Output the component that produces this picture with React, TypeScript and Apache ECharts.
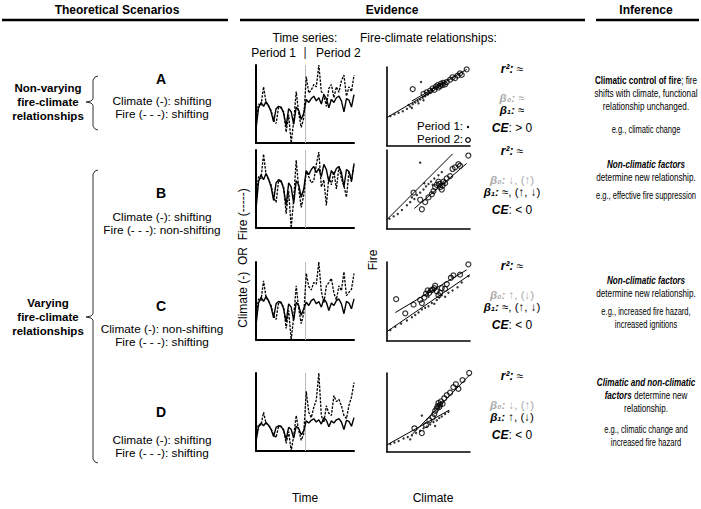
import React, { useEffect, useRef } from "react";
import * as echarts from "echarts";

const FONT = '"Liberation Sans", Arial, Helvetica, sans-serif';

// ---------- Time series (index 0..19 = Period 1, 20..39 = Period 2) ----------
const climateP1 = [18, 45, 52, 47, 53, 48, 40, 27, 44, 47, 46, 38, 22, 44, 40, 24, 46, 42, 30, 38];
const fireP1 = [30, 50, 48, 72, 52, 47, 42, 30, 25, 46, 45, 40, 14, 36, 0, 28, 66, 38, 20, 32];
const climateP2Shifted = [56, 52, 57, 60, 54, 58, 50, 62, 57, 45, 56, 52, 58, 60, 54, 40, 57, 55, 46, 62];
const climateP2Flat = [46, 42, 48, 50, 44, 47, 40, 50, 46, 36, 45, 42, 48, 50, 44, 32, 47, 45, 38, 50];
const fireP2A = [85, 64, 68, 75, 72, 100, 66, 62, 47, 70, 75, 58, 72, 65, 80, 87, 60, 72, 66, 87];
const fireP2B = [55, 50, 44, 46, 62, 74, 40, 47, 22, 50, 42, 55, 38, 60, 48, 41, 30, 55, 45, 63];
const fireP2C = [81, 65, 61, 70, 68, 95, 59, 45, 66, 70, 75, 57, 49, 66, 60, 83, 54, 58, 62, 81];
const fireP2D = [111, 72, 62, 81, 95, 145, 66, 53, 84, 70, 66, 103, 92, 96, 84, 66, 60, 85, 100, 127];
const tsMax = [100, 76, 95, 145];
const periodBreak = 19.5;

// ---------- Fire-climate scatter (x: climate, y: fire) ----------
const scatterA1 = [[4, 38], [9, 40], [14, 42], [19, 44], [24, 47], [28, 50], [31, 53], [34, 55], [37, 57], [40, 59], [43, 61], [46, 63], [49, 65], [52, 67], [30, 48], [38, 54], [44, 58], [26, 52], [41, 81], [55, 70]];
const scatterA2 = [[31, 72], [44, 66], [48, 68], [52, 70], [55, 73], [57, 71], [59, 75], [61, 77], [62, 74], [64, 76], [65, 79], [67, 77], [68, 80], [70, 78], [72, 81], [76, 84], [79, 87], [82, 86], [85, 89], [88, 92], [90, 90], [96, 97]];
const fitA1 = [[0, 36], [55, 70]];
const fitA2 = [[30, 57], [96, 97]];

const scatterB1 = [[3, 13], [8, 16], [13, 19], [18, 24], [24, 30], [28, 34], [33, 38], [36, 43], [40, 46], [44, 50], [47, 54], [50, 57], [53, 60], [57, 64], [62, 68], [66, 72], [40, 84], [30, 40], [45, 58], [55, 56]];
const scatterB2 = [[32, 46], [40, 37], [42, 25], [46, 34], [50, 40], [54, 44], [56, 48], [58, 53], [60, 56], [62, 60], [63, 57], [64, 53], [66, 50], [67, 55], [68, 60], [70, 58], [72, 64], [76, 67], [79, 76], [82, 78], [86, 82], [88, 80], [98, 93]];
const fitB1 = [[0, 12], [79, 95]];
const fitB2 = [[33, 26], [96, 83]];

const scatterC1 = [[4, 14], [10, 18], [17, 22], [24, 26], [30, 30], [34, 33], [38, 36], [42, 40], [46, 42], [50, 44], [54, 48], [57, 47], [60, 52], [63, 55], [66, 58], [70, 56], [74, 61], [79, 64], [85, 68], [90, 74], [98, 82], [50, 56]];
const scatterC2 = [[11, 53], [22, 35], [32, 46], [40, 52], [42, 48], [45, 55], [47, 60], [49, 64], [51, 61], [53, 64], [55, 65], [57, 67], [58, 70], [60, 63], [62, 58], [64, 61], [66, 67], [70, 66], [72, 72], [77, 80], [80, 83], [88, 84], [98, 97]];
const fitC1 = [[0, 12], [100, 84]];
const fitC2 = [[10, 36], [96, 90]];

const scatterD1 = [[4, 10], [9, 12], [14, 14], [20, 17], [25, 19], [30, 21], [35, 24], [40, 27], [44, 30], [48, 32], [52, 35], [56, 38], [60, 40], [63, 43], [66, 45], [70, 48], [74, 51], [42, 46], [58, 33], [28, 16]];
const scatterD2 = [[33, 30], [42, 24], [47, 34], [51, 40], [55, 44], [57, 48], [58, 52], [60, 55], [61, 58], [62, 62], [63, 57], [64, 60], [65, 64], [67, 61], [69, 68], [72, 72], [76, 75], [80, 82], [83, 86], [86, 80], [91, 91], [99, 100]];
const fitD1 = [[0, 9], [75, 53]];
const fitD2 = [[30, 22], [100, 98]];

// ---------- Texts ----------
const scenarioLetters = ["A", "B", "C", "D"];
const climateLabels = ["Climate (-): shifting", "Climate (-): shifting", "Climate (-): non-shifting", "Climate (-): shifting"];
const fireLabels = ["Fire (- - -): shifting", "Fire (- - -): non-shifting", "Fire (- - -): shifting", "Fire (- - -): shifting"];
const beta0Labels = ["≈", "↓, (↑)", "↑, (↓)", "↓, (↑)"];
const beta1Labels = ["≈", "≈, (↑, ↓)", "≈, (↑, ↓)", "↑, (↓)"];
const ceLabels = ["> 0", "< 0", "< 0", "< 0"];

const tsRows = [
  { climate: climateP2Shifted, fire: fireP2A },
  { climate: climateP2Shifted, fire: fireP2B },
  { climate: climateP2Flat, fire: fireP2C },
  { climate: climateP2Shifted, fire: fireP2D },
];
const scRows = [
  { p1: scatterA1, p2: scatterA2, fits: [fitA1, fitA2] },
  { p1: scatterB1, p2: scatterB2, fits: [fitB1, fitB2] },
  { p1: scatterC1, p2: scatterC2, fits: [fitC1, fitC2] },
  { p1: scatterD1, p2: scatterD2, fits: [fitD1, fitD2] },
];

const rowTop = [65, 150, 262, 373];
const scTop = [67, 150, 262, 373];
const letterY = [79, 193, 306, 412];
const descY = [[101, 114], [217, 230], [329, 342], [440, 453]];
const statY = [69, 151, 266, 376];

function txt(x: number, y: number, text: string, o: any = {}) {
  const align = o.align ?? "center";
  return {
    type: "text",
    x,
    y,
    rotation: o.rotation ?? 0,
    scaleX: o.sx ?? 1,
    silent: true,
    style: {
      text,
      fontFamily: FONT,
      fontSize: o.size ?? 12,
      fontWeight: o.weight ?? "normal",
      fontStyle: o.fstyle ?? "normal",
      fill: o.fill ?? "#000",
      align,
      textAlign: align,
      verticalAlign: "middle",
      textVerticalAlign: "middle",
      rich: o.rich,
    },
  };
}

function richSet(size: number, fill: string) {
  return {
    bi: { fontFamily: FONT, fontSize: size, fontWeight: "bold", fontStyle: "italic", fill },
    b: { fontFamily: FONT, fontSize: size, fontWeight: "bold", fill },
    n: { fontFamily: FONT, fontSize: size, fill },
  };
}

function hline(x1: number, x2: number, y: number) {
  return { type: "line", silent: true, shape: { x1, y1: y, x2, y2: y }, style: { stroke: "#000", lineWidth: 2.5 } };
}

function brace(top: number, bottom: number, mid: number) {
  return {
    type: "polyline",
    silent: true,
    shape: {
      points: [
        [98, top], [95, top + 1], [93, top + 4], [93, mid - 3], [91, mid - 1], [86, mid],
        [91, mid + 1], [93, mid + 3], [93, bottom - 4], [95, bottom - 1], [98, bottom],
      ],
    },
    style: { stroke: "#333", lineWidth: 1, fill: null },
  };
}

function buildOption() {
  const grid: any[] = [];
  const xAxis: any[] = [];
  const yAxis: any[] = [];
  const series: any[] = [];
  const axisBase = (w: number) => ({
    type: "value",
    axisLine: { show: true, onZero: false, lineStyle: { color: "#000", width: w } },
    axisTick: { show: false },
    axisLabel: { show: false },
    splitLine: { show: false },
  });

  tsRows.forEach((r, i) => {
    grid.push({ left: 256, top: rowTop[i], width: 98, height: 78 });
    xAxis.push({ ...axisBase(2), gridIndex: i, min: 0, max: 39 });
    yAxis.push({ ...axisBase(2), gridIndex: i, min: 0, max: tsMax[i] });
    series.push({
      type: "line",
      xAxisIndex: i,
      yAxisIndex: i,
      data: [...climateP1, ...r.climate].map((v, k) => [k, v]),
      symbol: "none",
      lineStyle: { color: "#000", width: 1.4 },
      z: 3,
      markLine: {
        silent: true,
        symbol: ["none", "none"],
        label: { show: false },
        lineStyle: { color: "#bbb", width: 1, type: "solid" },
        data: [{ xAxis: periodBreak }],
        z: 1,
      },
    });
    series.push({
      type: "line",
      xAxisIndex: i,
      yAxisIndex: i,
      data: [...fireP1, ...r.fire].map((v, k) => [k, v]),
      symbol: "none",
      lineStyle: { color: "#000", width: 1.3, type: [2.5, 1.3] },
      z: 4,
    });
  });

  scRows.forEach((r, j) => {
    const g = 4 + j;
    grid.push({ left: 387, top: scTop[j], width: 83, height: 79 });
    xAxis.push({ ...axisBase(1.6), gridIndex: g, min: 0, max: 100 });
    yAxis.push({ ...axisBase(1.6), gridIndex: g, min: 0, max: 100 });
    r.fits.forEach((f) => {
      series.push({
        type: "line",
        xAxisIndex: g,
        yAxisIndex: g,
        data: f,
        symbol: "none",
        lineStyle: { color: "#000", width: 1 },
        z: 2,
      });
    });
    series.push({
      type: "scatter",
      xAxisIndex: g,
      yAxisIndex: g,
      data: r.p1,
      symbol: "circle",
      symbolSize: 2.4,
      itemStyle: { color: "#000" },
      z: 3,
    });
    series.push({
      type: "scatter",
      xAxisIndex: g,
      yAxisIndex: g,
      data: r.p2,
      symbol: "circle",
      symbolSize: 5,
      itemStyle: { color: "rgba(255,255,255,0)", borderColor: "#000", borderWidth: 1.2 },
      z: 4,
    });
  });

  const els: any[] = [];
  // headers
  els.push(txt(117, 10, "Theoretical Scenarios", { weight: "bold" }));
  els.push(txt(392, 10, "Evidence", { weight: "bold" }));
  els.push(txt(646, 10, "Inference", { weight: "bold" }));
  els.push(hline(2, 228, 20), hline(240, 585, 20), hline(596, 699, 20));

  // left group labels and braces
  const gl = { weight: "bold", size: 11.5 };
  els.push(txt(48, 88, "Non-varying", gl), txt(48, 102, "fire-climate", gl), txt(48, 116, "relationships", gl));
  els.push(txt(48, 303, "Varying", gl), txt(48, 317, "fire-climate", gl), txt(48, 331, "relationships", gl));
  els.push(brace(76, 130, 102));
  els.push(brace(170, 463, 317));

  // scenario descriptions
  letterY.forEach((Y, i) => {
    els.push(txt(161, Y, scenarioLetters[i], { weight: "bold", size: 14 }));
    els.push(txt(162, descY[i][0], climateLabels[i], { size: 11.8 }));
    els.push(txt(162, descY[i][1], fireLabels[i], { size: 11.8 }));
  });

  // evidence titles
  els.push(txt(305, 38, "Time series:"));
  els.push(txt(296, 53, "Period 1", { align: "right" }));
  els.push(txt(305, 52, "|", { fill: "#222" }));
  els.push(txt(316, 53, "Period 2", { align: "left" }));
  els.push(txt(360, 38, "Fire-climate relationships:", { align: "left" }));
  els.push(txt(243, 258, "Climate (-)  OR  Fire (-----)", { rotation: Math.PI / 2 }));
  els.push(txt(373, 260, "Fire", { rotation: Math.PI / 2 }));
  els.push(txt(305, 498, "Time"));
  els.push(txt(433, 498, "Climate"));

  // scatter A legend
  els.push(txt(463, 126, "Period 1:", { align: "right", size: 11.5 }));
  els.push({ type: "circle", silent: true, shape: { cx: 468, cy: 127, r: 1.2 }, style: { fill: "#000" } });
  els.push(txt(463, 139, "Period 2:", { align: "right", size: 11.5 }));
  els.push({ type: "circle", silent: true, shape: { cx: 468, cy: 140, r: 2.3 }, style: { fill: "#fff", stroke: "#000", lineWidth: 1.2 } });

  // stats column
  statY.forEach((Y, i) => {
    els.push(txt(512, Y, "{bi|r²:}{n| ≈}", { rich: richSet(12, "#000") }));
    els.push(txt(512, Y + 29, "{bi|β₀:}{n| " + beta0Labels[i] + "}", { rich: richSet(11.5, "#aaa") }));
    els.push(txt(512, Y + 41, "{bi|β₁:}{n| " + beta1Labels[i] + "}", { rich: richSet(11.5, "#000") }));
    els.push(txt(512, Y + 59, "{bi|CE}{n|: " + ceLabels[i] + "}", { rich: richSet(12, "#000") }));
  });

  // inference column (horizontally condensed text)
  const MS = 11;
  const MX = 0.74;
  const ES = 10.5;
  const EX = 0.72;
  const rM = richSet(MS, "#000");
  const IX = 646;
  const m = (y: number, t: string) => txt(IX, y, t, { size: MS, sx: MX });
  const mr = (y: number, t: string) => txt(IX, y, t, { rich: rM, size: MS, sx: MX });
  const e = (y: number, t: string) => txt(IX, y, t, { size: ES, sx: EX });
  els.push(mr(80, "{b|Climatic control of fire}{n|; fire}"));
  els.push(m(93, "shifts with climate, functional"));
  els.push(m(106, "relationship unchanged."));
  els.push(e(130, "e.g., climatic change"));
  els.push(mr(164, "{bi|Non-climatic factors}"));
  els.push(m(177, "determine new relationship."));
  els.push(e(196, "e.g., effective fire suppression"));
  els.push(mr(280, "{bi|Non-climatic factors}"));
  els.push(m(293, "determine new relationship."));
  els.push(e(312, "e.g., increased fire hazard,"));
  els.push(e(325, "increased ignitions"));
  els.push(mr(382, "{bi|Climatic and non-climatic}"));
  els.push(mr(395, "{bi|factors}{n| determine new}"));
  els.push(m(408, "relationship."));
  els.push(e(430, "e.g., climatic change and"));
  els.push(e(443, "increased fire hazard"));

  return {
    animation: false,
    backgroundColor: "#fff",
    grid,
    xAxis,
    yAxis,
    series,
    graphic: { elements: els },
  };
}

export default function App() {
  const ref = useRef<HTMLDivElement>(null);
  useEffect(() => {
    document.body.style.margin = "0";
    if (!ref.current) return;
    const chart = echarts.init(ref.current, undefined, { renderer: "svg" });
    chart.setOption(buildOption() as any);
    return () => chart.dispose();
  }, []);
  return <div ref={ref} style={{ position: "fixed", left: 0, top: 0, width: 701, height: 509 }} />;
}
